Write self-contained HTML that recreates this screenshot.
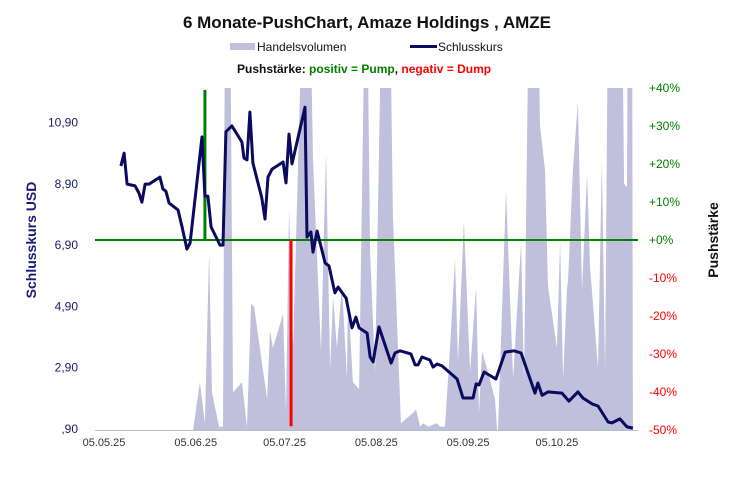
<!DOCTYPE html>
<html><head><meta charset="utf-8"><style>
body{margin:0;background:#fff;font-family:"Liberation Sans",sans-serif}
svg text{font-family:"Liberation Sans",sans-serif}
</style></head><body>
<svg id="chart" width="734" height="480" xmlns="http://www.w3.org/2000/svg">
<text x="367" y="28" text-anchor="middle" font-size="17" font-weight="bold" fill="#111">6 Monate-PushChart,  Amaze Holdings , AMZE</text>
<g>
<rect x="230" y="43" width="25" height="7" fill="#c0c0dc"/>
<text x="257" y="51" font-size="12" fill="#111">Handelsvolumen</text>
<line x1="410" y1="46.5" x2="437" y2="46.5" stroke="#0a0a5e" stroke-width="3"/>
<text x="438" y="51" font-size="12" fill="#111">Schlusskurs</text>
<text x="237" y="73" font-size="12" font-weight="bold"><tspan fill="#111">Pushstärke:  </tspan><tspan fill="#008000">positiv = Pump</tspan><tspan fill="#111">,  </tspan><tspan fill="#ff0000">negativ = Dump</tspan></text>
</g>
<text transform="translate(36,240) rotate(-90)" text-anchor="middle" font-size="14" font-weight="bold" fill="#1a1a7a">Schlusskurs USD</text>
<text transform="translate(718,240) rotate(-90)" text-anchor="middle" font-size="14" font-weight="bold" fill="#111">Pushstärke</text>
<defs><clipPath id="pc"><rect x="95" y="88" width="543" height="342"/></clipPath></defs>
<g id="vol" clip-path="url(#pc)"></g>
<g id="marks"></g>
<g id="axes"></g>
</svg>
<script>
const priceDays=[8.4,9.5,10.5,13.2,14.5,15.5,16.6,17.9,21.6,22.6,23.6,24.7,27.7,29.1,30.7,31.8,35.8,36.8,37.8,38.9,41.9,42.9,43.9,45.9,49.3,50,51,52,53,56,57.1,58.1,59.5,63.2,64.2,65.2,66.2,70.6,71.3,72.6,73.3,74.7,77.4,78.7,80.7,81.8,84.5,86.5,87.8,88.9,91.6,92.6,93.6,95.6,99.7,101,102.7,106.4,107.8,108.8,110.1,112.8,113.9,115.2,116.9,122,124,127.4,128.4,129.4,131.1,135.1,135.8,138.2,141.2,143.6,148.3,149.3,150.7,152.7,157.4,159.8,162.8,164.5,167.6,169.6,173,174.3,177,179.4,181.4];
const prices=[9.48,9.9,8.89,8.83,8.6,8.3,8.89,8.89,9.12,8.73,8.66,8.27,8.05,7.49,6.77,6.97,10.43,8.5,8.5,7.49,6.9,6.9,10.6,10.79,10.26,9.74,9.68,11.24,9.58,8.44,7.75,9.12,9.38,9.61,8.93,10.52,9.55,11.4,7.16,7.33,6.67,7.36,6.32,6.22,5.34,5.53,5.17,4.2,4.55,4.2,4.03,3.25,3.09,4.23,3.05,3.38,3.45,3.35,2.99,2.99,3.25,3.15,2.92,3.02,2.96,2.53,1.91,1.91,2.37,2.34,2.76,2.53,2.73,3.41,3.45,3.38,2.07,2.4,2.0,2.11,2.07,1.81,2.11,1.91,1.72,1.65,1.13,1.1,1.23,0.97,0.93];
const volDays=[8.4,32.8,35.1,36.8,38.2,39.2,41.6,42.9,43.6,45.3,46.3,49.3,51.0,52.4,53.4,57.8,58.8,59.8,63.2,64.2,65.2,66.6,69.9,72.3,73.3,76.0,77.7,79.1,80.1,81.4,83.1,84.8,85.1,86.8,88.9,90.9,91.6,92.6,94.3,96.6,99.3,100.3,103.0,107.1,108.1,109.5,110.5,112.2,115.2,116.2,117.9,119.6,121.3,122.3,124.3,126.4,128.4,129.4,130.4,132.1,134.8,135.5,135.8,138.5,140.9,142.2,143.6,144.6,146.3,149.3,150.0,151.7,152.7,155.7,156.8,157.8,159.1,159.5,161.1,162.8,164.2,165.9,166.9,169.6,170.9,172.0,173.0,177.7,178.4,179.4,179.7,181.1,181.4];
const volumes=[0,0,14,2,52,11,1,1,130,130,11,14,1,37,36,9,29,24,34,5,65,24,130,130,79,23,81,18,39,24,42,15,40,14,12,130,130,52,17,130,130,63,2,5,6,1,2,1,2,1,1,24,50,20,61,17,42,5,23,18,9,0,0,70,15,34,55,14,130,130,89,76,42,24,55,15,41,44,76,96,41,75,48,18,79,17,130,130,72,71,130,130,0];
const pushDays=[36.8,65.9];
const pushValues=[39.5,-49];
const leftTicks=[0.9,2.9,4.9,6.9,8.9,10.9];
const leftTickLabels=[",90","2,90","4,90","6,90","8,90","10,90"];
const rightTicks=[40,30,20,10,0,-10,-20,-30,-40,-50];
const xTickDays=[0,31,61,92,123,153];
const xTickLabels=["05.05.25","05.06.25","05.07.25","05.08.25","05.09.25","05.10.25"];

const NS="http://www.w3.org/2000/svg";
const xS=d=>96+2.96*d;
const yP=p=>429-(p-0.9)*30.65;
const yR=v=>240-v*3.8;
const yV=v=>430-v*3.42;
function mk(tag,attrs,parent,txt){const e=document.createElementNS(NS,tag);for(const k in attrs)e.setAttribute(k,attrs[k]);if(txt!==undefined)e.textContent=txt;parent.appendChild(e);return e;}
const vol=document.getElementById('vol'),marks=document.getElementById('marks'),axes=document.getElementById('axes');
let d="M"+xS(volDays[0])+",430";
volDays.forEach((x,i)=>{d+=" L"+xS(x).toFixed(1)+","+yV(volumes[i]).toFixed(1);});
d+=" L"+xS(volDays[volDays.length-1])+",430 Z";
const va=mk('path',{d:d,fill:'#c0c0dc'},vol);


const zl=mk('line',{x1:95,x2:638,y1:yR(0),y2:yR(0),stroke:'#008000','stroke-width':2},marks);


pushDays.forEach((pd,i)=>{const v=pushValues[i];
 const l=mk('line',{x1:xS(pd),x2:xS(pd),y1:yR(0),y2:yR(v),stroke:v>=0?'#008000':'#ff0000','stroke-width':3},marks);
 
 });
const pts=priceDays.map((x,i)=>xS(x).toFixed(1)+","+yP(prices[i]).toFixed(1)).join(" ");
const pl=mk('polyline',{points:pts,fill:'none',stroke:'#0a0a5e','stroke-width':3,'stroke-linejoin':'round'},marks);


const xa=mk('line',{x1:95,x2:638,y1:430.5,y2:430.5,stroke:'#bbb','stroke-width':1},axes);


leftTicks.forEach((t,i)=>{const e=mk('text',{x:78,y:yP(t)+4,'text-anchor':'end','font-size':12,fill:'#1a1a6e'},axes,leftTickLabels[i]);
 
 });
rightTicks.forEach(t=>{const e=mk('text',{x:649,y:yR(t)+4,'font-size':12,fill:t>=0?'#008000':'#ff0000'},axes,(t>0?'+':t<0?'-':'+')+Math.abs(t)+'%');
 
 });
xTickDays.forEach((t,i)=>{const e=mk('text',{x:xS(t)+8,y:446,'text-anchor':'middle','font-size':11,fill:'#333'},axes,xTickLabels[i]);
 
 });
</script>
</body></html>
